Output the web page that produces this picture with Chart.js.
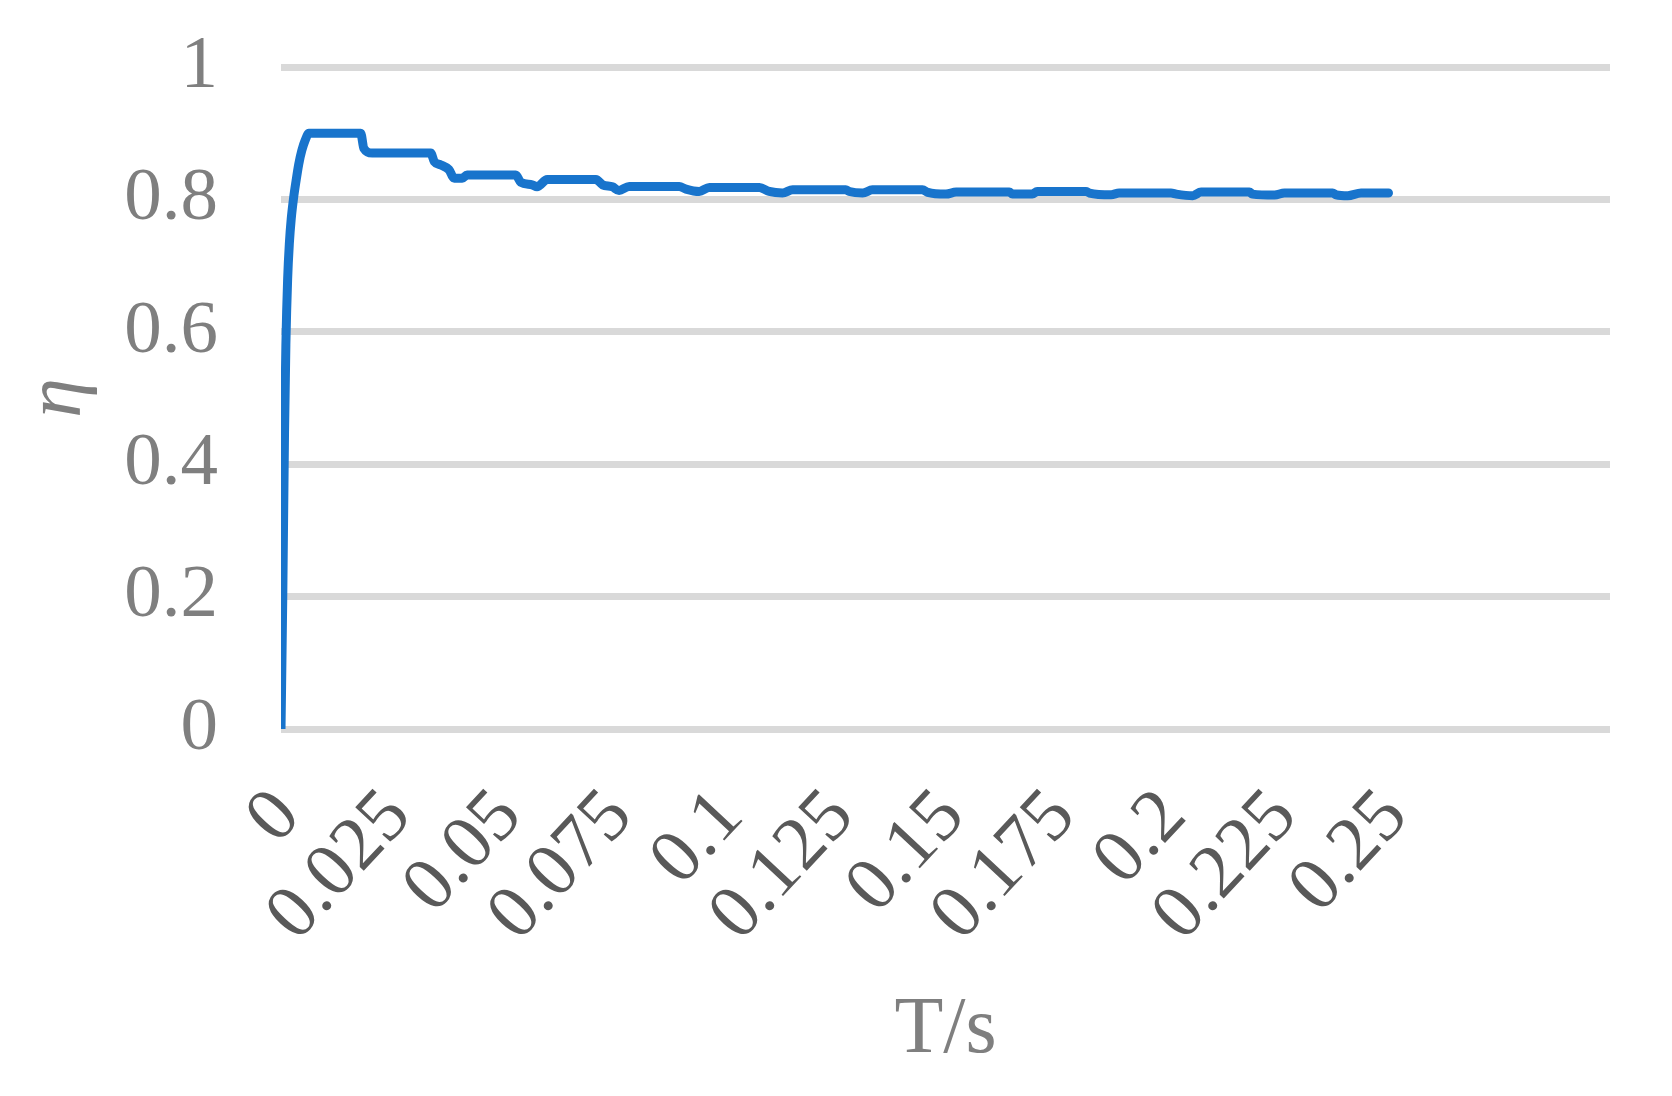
<!DOCTYPE html>
<html>
<head>
<meta charset="utf-8">
<script src="https://cdn.jsdelivr.net/npm/chart.js@4/dist/chart.umd.min.js"></script>
<style>
  html, body { margin: 0; padding: 0; background: #ffffff; }
  #wrap { width: 1672px; height: 1096px; }
</style>
</head>
<body>
<div id="wrap"><canvas id="c" width="1672" height="1096"></canvas></div>
<script>
// time values (s)
const tData = [0, 0.0004, 0.0008, 0.0011, 0.0015, 0.0019, 0.0023, 0.0028, 0.0034, 0.004, 0.0047, 0.0055, 0.0063,
  0.018, 0.0187, 0.0206, 0.0338, 0.0346, 0.0361, 0.0379, 0.0391, 0.0409, 0.042,
  0.053, 0.0541, 0.0567, 0.0578, 0.0601, 0.0711, 0.0726, 0.0748, 0.0763, 0.0786,
  0.0899, 0.0914, 0.0944, 0.0967, 0.108, 0.1102, 0.1132, 0.1155, 0.1275, 0.1283,
  0.1313, 0.1335, 0.1448, 0.146, 0.1501, 0.1524, 0.1644, 0.1651, 0.1696, 0.1707,
  0.1817, 0.1825, 0.1874, 0.1892, 0.2009, 0.2021, 0.2058, 0.2077, 0.2186, 0.2193,
  0.2243, 0.2265, 0.2374, 0.2382, 0.2408, 0.2438, 0.25];
// efficiency values
const etaData = [0, 0.2, 0.45, 0.58, 0.68, 0.735, 0.77, 0.8, 0.828, 0.853, 0.874, 0.89, 0.9,
  0.9, 0.877, 0.870, 0.870, 0.857, 0.852, 0.845, 0.832, 0.832, 0.837,
  0.837, 0.826, 0.822, 0.819, 0.830, 0.830, 0.822, 0.819, 0.8135, 0.8195,
  0.8195, 0.8156, 0.812, 0.818, 0.818, 0.812, 0.8096, 0.8146, 0.8146, 0.812,
  0.8096, 0.8146, 0.8146, 0.8106, 0.808, 0.811, 0.811, 0.808, 0.808, 0.812,
  0.812, 0.8096, 0.807, 0.8096, 0.8096, 0.808, 0.8056, 0.811, 0.811, 0.808,
  0.8066, 0.8096, 0.8096, 0.807, 0.8056, 0.8096, 0.8096];
// tick labels
const xTickLabels = ['0', '0.025', '0.05', '0.075', '0.1', '0.125', '0.15', '0.175', '0.2', '0.225', '0.25'];
const yTickLabels = ['0', '0.2', '0.4', '0.6', '0.8', '1'];
const xTitle = 'T/s';
const yTitle = 'η';

const points = tData.map((t, i) => ({ x: t, y: etaData[i] }));

new Chart(document.getElementById('c'), {
  type: 'line',
  data: {
    datasets: [{
      data: points,
      borderColor: '#1874cc',
      borderWidth: 9,
      pointRadius: 0,
      tension: 0.2,
      cubicInterpolationMode: 'monotone',
      fill: false,
      borderCapStyle: 'round',
      borderJoinStyle: 'round'
    }]
  },
  options: {
    responsive: false,
    animation: false,
    devicePixelRatio: 1,
    layout: { padding: { left: 0, right: 62, top: 67, bottom: 17 } },
    plugins: { legend: { display: false }, tooltip: { enabled: false } },
    scales: {
      x: {
        type: 'linear',
        min: 0,
        max: 0.3,
        afterFit: (s) => { s.height = 1096 - 17 - 729; s.paddingLeft = 0; s.paddingRight = 0; },
        afterBuildTicks: (s) => {
          s.ticks = [];
          for (let i = 0; i <= 12; i++) s.ticks.push({ value: i * 0.025 });
        },
        grid: { display: false, drawTicks: false, tickLength: 0 },
        border: { display: false },
        ticks: {
          autoSkip: false,
          minRotation: 47,
          maxRotation: 47,
          padding: 44,
          labelOffset: 7,
          color: '#595959',
          font: { family: 'Liberation Serif', size: 76 },
          callback: (v, i) => (i < xTickLabels.length ? xTickLabels[i] : '')
        },
        title: {
          display: true,
          text: xTitle,
          color: '#7f7f7f',
          font: { family: 'Liberation Serif', size: 80 },
          padding: { top: 0, bottom: 0 }
        }
      },
      y: {
        type: 'linear',
        min: 0,
        max: 1,
        afterFit: (s) => { s.width = 281; s.paddingTop = 0; s.paddingBottom = 0; },
        afterBuildTicks: (s) => {
          s.ticks = yTickLabels.map((_, i) => ({ value: i * 0.2 }));
        },
        grid: { color: '#d9d9d9', lineWidth: 7, drawTicks: false, tickLength: 0 },
        border: { display: false },
        ticks: {
          padding: 63,
          color: '#7f7f7f',
          font: { family: 'Liberation Serif', size: 75 },
          callback: (v, i) => yTickLabels[i]
        },
        title: {
          display: true,
          text: yTitle,
          color: '#7f7f7f',
          font: { family: 'Liberation Serif', size: 80, style: 'italic' },
          padding: { top: 11, bottom: 0 }
        }
      }
    }
  }
});
</script>
</body>
</html>
